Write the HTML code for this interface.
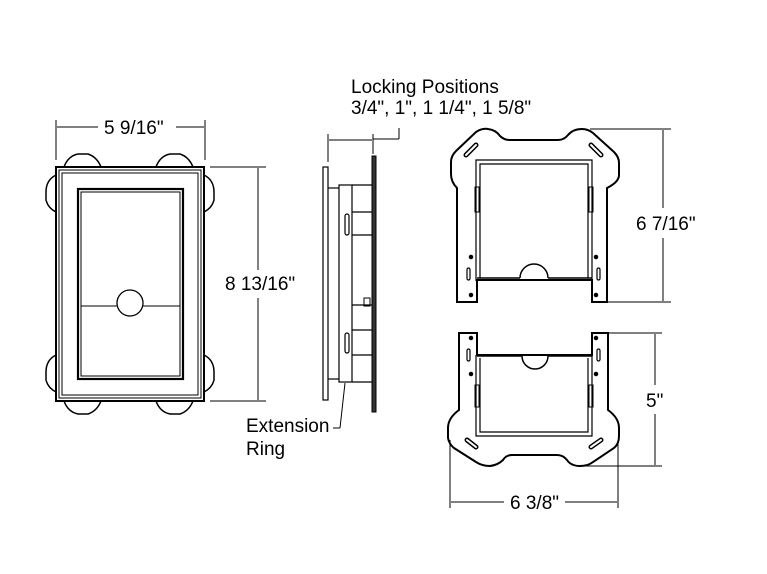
<!DOCTYPE html>
<html><head><style>
html,body{margin:0;padding:0;background:#fff;}
svg{display:block;}
text{font-family:"Liberation Sans",Arial,sans-serif;fill:#000;}
</style></head><body>
<svg width="767" height="574" viewBox="0 0 767 574" xmlns="http://www.w3.org/2000/svg">
<g fill="none" stroke="#000" stroke-width="1.5">
<path d="M64,167 Q68,156 78,154 L88,154 Q97,157 101,167"/>
<path d="M156,167 Q160,156 170,154 L180,154 Q189,157 193,167"/>
<path d="M64,401 Q68,412 78,414 L88,414 Q97,411 101,401"/>
<path d="M156,401 Q160,412 170,414 L180,414 Q189,411 193,401"/>
<path d="M56,175 Q46,180 46,192 L46,200 Q48,208 56,212"/>
<path d="M56,355 Q46,360 46,372 L46,380 Q48,388 56,392"/>
<path d="M204,175 Q214,180 214,192 L214,200 Q212,208 204,212"/>
<path d="M204,355 Q214,360 214,372 L214,380 Q212,388 204,392"/>
<rect x="56" y="167" width="148" height="234" fill="#fff" stroke-width="2"/>
<rect x="59" y="170" width="142" height="228" stroke-width="1"/>
<rect x="62" y="173" width="136" height="222" stroke-width="1"/>
<rect x="78" y="189" width="105" height="190" stroke-width="2.2"/>
<rect x="81" y="192" width="99" height="184" stroke-width="1"/>
<line x1="81" y1="306" x2="117" y2="306" stroke-width="1"/>
<line x1="143" y1="306" x2="180" y2="306" stroke-width="1"/>
<circle cx="130" cy="303" r="13" stroke-width="1.3"/>
<g stroke-width="1">
<line x1="56" y1="120" x2="56" y2="160"/>
<line x1="205" y1="120" x2="205" y2="160"/>
<line x1="57" y1="127" x2="98" y2="127"/>
<line x1="176" y1="127" x2="204" y2="127"/>
<line x1="210" y1="167" x2="266" y2="167"/>
<line x1="210" y1="401" x2="266" y2="401"/>
<line x1="258" y1="168" x2="258" y2="270"/>
<line x1="258" y1="298" x2="258" y2="400"/>
</g>
<rect x="323" y="167" width="5" height="233" stroke-width="1.2"/>
<rect x="372" y="156" width="4" height="256" fill="#333" stroke-width="1"/>
<rect x="339" y="185" width="13" height="197" stroke-width="1.2"/>
<g stroke-width="1.2">
<line x1="328" y1="188" x2="339" y2="188"/>
<line x1="328" y1="379" x2="339" y2="379"/>
<line x1="352" y1="185" x2="372" y2="185"/>
<line x1="352" y1="212" x2="372" y2="212"/>
<line x1="352" y1="235" x2="372" y2="235"/>
<line x1="352" y1="305" x2="372" y2="305"/>
<line x1="352" y1="330" x2="372" y2="330"/>
<line x1="352" y1="355" x2="372" y2="355"/>
<line x1="352" y1="382" x2="372" y2="382"/>
</g>
<rect x="345" y="214" width="4" height="21" rx="2" stroke-width="1.2"/>
<rect x="345" y="333" width="4" height="20" rx="2" stroke-width="1.2"/>
<rect x="364" y="298" width="6" height="8" stroke-width="1"/>
<g stroke-width="1">
<line x1="328" y1="134" x2="328" y2="162"/>
<line x1="373" y1="134" x2="373" y2="154"/>
<line x1="329" y1="140" x2="372" y2="140"/>
<line x1="373" y1="139" x2="399" y2="139"/>
<line x1="399" y1="128" x2="399" y2="139"/>
<line x1="345" y1="383" x2="340" y2="428"/>
<line x1="340" y1="428" x2="333" y2="428"/>
</g>
<path d="M457,302 L457,188 Q451,182 451,174 L451,162 Q451,156 456,151 L476,132 Q482,128 488,129 Q496,130 500,136 Q504,140 510,140 L558,140 Q564,140 568,135 Q573,129 582,129 Q588,129 593,133 L614,152 Q619,157 619,163 L619,175 Q619,182 607,188 L607,302 L592,302 L592,280 L477,280 L477,302 Z" stroke-width="2"/>
<path d="M476,281 L476,160 L592,160 L592,281" stroke-width="1.2"/>
<path d="M480,278 L480,164 L588,164 L588,278" stroke-width="1.2"/>
<line x1="477" y1="278" x2="520" y2="278" stroke-width="1.5"/>
<line x1="548" y1="278" x2="592" y2="278" stroke-width="1.5"/>
<path d="M520,278 A14,14 0 0 1 548,278" stroke-width="1.5"/>
<rect x="475" y="187" width="4" height="25" stroke-width="1"/>
<rect x="589" y="187" width="4" height="25" stroke-width="1"/>
<line x1="466" y1="155" x2="476" y2="145" stroke-width="5" stroke-linecap="round"/>
<line x1="466" y1="155" x2="476" y2="145" stroke="#fff" stroke-width="2" stroke-linecap="round"/>
<line x1="591" y1="145" x2="601" y2="155" stroke-width="5" stroke-linecap="round"/>
<line x1="591" y1="145" x2="601" y2="155" stroke="#fff" stroke-width="2" stroke-linecap="round"/>
<rect x="467" y="268" width="3" height="12" rx="1.5" stroke-width="1.2"/>
<rect x="597" y="268" width="3" height="12" rx="1.5" stroke-width="1.2"/>
<circle cx="471" cy="257" r="1.5" fill="#000"/><circle cx="471" cy="295" r="1.5" fill="#000"/>
<circle cx="596" cy="257" r="1.5" fill="#000"/><circle cx="596" cy="295" r="1.5" fill="#000"/>
<g stroke-width="1">
<line x1="590" y1="129" x2="671" y2="129"/>
<line x1="607" y1="302" x2="671" y2="302"/>
<line x1="663" y1="130" x2="663" y2="208"/>
<line x1="663" y1="238" x2="663" y2="301"/>
</g>
<path d="M459,333 L459,410 Q448,418 448,428 L448,438 Q449,444 454,448 L476,462 Q482,466 490,466 Q498,465 503,460 Q506,455 512,455 L557,455 Q563,455 567,460 Q571,466 580,466 Q588,466 593,462 L614,448 Q619,444 619,436 L619,428 Q619,418 608,410 L608,333 L592,333 L592,355 L477,355 L477,333 Z" stroke-width="2"/>
<path d="M476,355 L476,436 L592,436 L592,355" stroke-width="1.2"/>
<path d="M480,358 L480,432 L588,432 L588,358" stroke-width="1.2"/>
<line x1="477" y1="356" x2="522" y2="356" stroke-width="1.5"/>
<line x1="548" y1="356" x2="592" y2="356" stroke-width="1.5"/>
<path d="M522,356 A13,13 0 0 0 548,356" stroke-width="1.5"/>
<rect x="475" y="385" width="4" height="22" stroke-width="1"/>
<rect x="589" y="385" width="4" height="22" stroke-width="1"/>
<line x1="467" y1="440" x2="476" y2="447" stroke-width="5" stroke-linecap="round"/>
<line x1="467" y1="440" x2="476" y2="447" stroke="#fff" stroke-width="2" stroke-linecap="round"/>
<line x1="591" y1="447" x2="601" y2="440" stroke-width="5" stroke-linecap="round"/>
<line x1="591" y1="447" x2="601" y2="440" stroke="#fff" stroke-width="2" stroke-linecap="round"/>
<rect x="467" y="349" width="3" height="12" rx="1.5" stroke-width="1.2"/>
<rect x="597" y="349" width="3" height="12" rx="1.5" stroke-width="1.2"/>
<circle cx="471" cy="338" r="1.5" fill="#000"/><circle cx="471" cy="374" r="1.5" fill="#000"/>
<circle cx="596" cy="338" r="1.5" fill="#000"/><circle cx="596" cy="374" r="1.5" fill="#000"/>
<g stroke-width="1">
<line x1="608" y1="333" x2="662" y2="333"/>
<line x1="580" y1="466" x2="662" y2="466"/>
<line x1="655" y1="334" x2="655" y2="385"/>
<line x1="655" y1="414" x2="655" y2="465"/>
<line x1="450" y1="440" x2="450" y2="508"/>
<line x1="618" y1="440" x2="618" y2="508"/>
<line x1="451" y1="502" x2="504" y2="502"/>
<line x1="565" y1="502" x2="617" y2="502"/>
</g>
</g>
<g font-size="19">
<text x="104" y="134">5 9/16"</text>
<text x="225" y="290">8 13/16"</text>
<text x="351" y="93">Locking Positions</text>
<text x="351" y="114">3/4", 1", 1 1/4", 1 5/8"</text>
<text x="246" y="432">Extension</text>
<text x="246" y="455">Ring</text>
<text x="636" y="230">6 7/16"</text>
<text x="646" y="407">5"</text>
<text x="510" y="509">6 3/8"</text>
</g>
</svg>
</body></html>
